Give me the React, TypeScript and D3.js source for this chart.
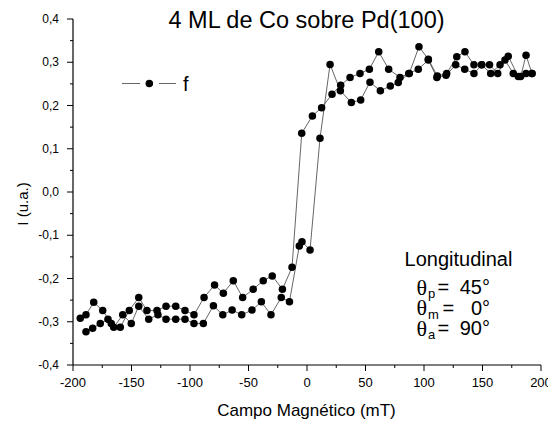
import React from "react";
import * as d3 from "d3";

const fieldDown = [-193.8, -188.9, -182.3, -174.6, -167.3, -159.6, -151.9, -143.8, -136.8, -128.2, -120.5, -112.2, -104.3, -96.6, -88.0, -79.0, -71.5, -63.0, -55.0, -46.0, -37.4, -29.7, -21.0, -12.8, -4.5, 4.6, 12.5, 21.4, 28.8, 36.8, 45.3, 53.3, 61.3, 69.8, 79.5, 87.4, 95.7, 103.7, 111.4, 119.4, 128.0, 135.0, 142.7, 149.3, 156.0, 163.0, 169.2, 176.3, 182.6, 187.2, 192.3];
const intensityDown = [-0.292, -0.284, -0.255, -0.274, -0.304, -0.313, -0.274, -0.244, -0.274, -0.274, -0.264, -0.264, -0.274, -0.284, -0.244, -0.215, -0.234, -0.205, -0.244, -0.225, -0.205, -0.194, -0.225, -0.174, 0.136, 0.176, 0.195, 0.226, 0.247, 0.265, 0.274, 0.284, 0.324, 0.284, 0.265, 0.274, 0.336, 0.307, 0.268, 0.274, 0.313, 0.324, 0.294, 0.294, 0.294, 0.274, 0.305, 0.274, 0.267, 0.316, 0.274];

const fieldUp = [-188.9, -183.2, -176.7, -170.1, -165.2, -157.5, -150.2, -143.8, -135.3, -127.4, -120.5, -112.2, -104.3, -96.6, -88.6, -80.0, -72.0, -64.0, -55.8, -47.0, -39.0, -30.8, -22.0, -15.0, -6.6, -4.3, 2.6, 11.1, 19.7, 28.5, 37.9, 45.9, 53.8, 62.7, 71.2, 78.0, 87.0, 95.1, 103.7, 111.0, 118.8, 127.1, 134.8, 142.7, 149.3, 157.0, 165.0, 172.0, 180.6, 187.2, 192.3];
const intensityUp = [-0.323, -0.315, -0.304, -0.294, -0.313, -0.284, -0.304, -0.264, -0.294, -0.284, -0.294, -0.294, -0.294, -0.304, -0.304, -0.263, -0.284, -0.273, -0.284, -0.273, -0.254, -0.284, -0.244, -0.254, -0.125, -0.115, -0.134, 0.124, 0.295, 0.234, 0.207, 0.213, 0.254, 0.234, 0.245, 0.253, 0.274, 0.284, 0.305, 0.265, 0.270, 0.294, 0.284, 0.274, 0.294, 0.274, 0.294, 0.314, 0.267, 0.274, 0.274];

const xTicks = [-200, -150, -100, -50, 0, 50, 100, 150, 200];
const xMinorTicks = [-175, -125, -75, -25, 25, 75, 125, 175];
const yTicks = [-0.4, -0.3, -0.2, -0.1, 0, 0.1, 0.2, 0.3, 0.4];
const yMinorTicks = [-0.35, -0.25, -0.15, -0.05, 0.05, 0.15, 0.25, 0.35];
const yTickLabels = ["-0,4", "-0,3", "-0,2", "-0,1", "0,0", "0,1", "0,2", "0,3", "0,4"];

const title = "4 ML de Co sobre Pd(100)";
const xTitle = "Campo Magnético (mT)";
const yTitle = "I (u.a.)";
const legendLabel = "f";
const angleSubs = ["p", "m", "a"];
const angleValues = ["45°", "0°", "90°"];

const SANS = "'Liberation Sans', Arial, sans-serif";
const SERIF = "'Liberation Serif', 'DejaVu Serif', serif";

export default function App() {
  const W = 548, H = 422;
  const x = d3.scaleLinear().domain([-200, 200]).range([73, 541]);
  const y = d3.scaleLinear().domain([-0.4, 0.4]).range([365, 19]);

  const down = fieldDown.map((f, i) => [f, intensityDown[i]] as [number, number]);
  const up = fieldUp.map((f, i) => [f, intensityUp[i]] as [number, number]);
  const line = d3.line<[number, number]>().x(d => x(d[0])).y(d => y(d[1]));

  const x0 = x(-200), yb = y(-0.4);
  const R = 3.75;
  const angleBase = [294, 314.5, 335];
  const eqX = [437.5, 442.5, 437.5];

  return (
    <svg width={W} height={H} style={{ position: "absolute", left: 0, top: 0, background: "#fff" }}>
      <rect width={W} height={H} fill="#fff" />
      {/* series lines */}
      <path d={line(down) || ""} fill="none" stroke="#555" strokeWidth={0.9} />
      <path d={line(up) || ""} fill="none" stroke="#555" strokeWidth={0.9} />
      {down.map((d, i) => (
        <circle key={"d" + i} cx={x(d[0])} cy={y(d[1])} r={R} fill="#000" />
      ))}
      {up.map((d, i) => (
        <circle key={"u" + i} cx={x(d[0])} cy={y(d[1])} r={R} fill="#000" />
      ))}

      {/* axes */}
      <line x1={x0} x2={x0} y1={y(0.4)} y2={yb} stroke="#000" strokeWidth={1.2} />
      <line x1={x0} x2={x(200)} y1={yb} y2={yb} stroke="#000" strokeWidth={1.2} />
      {xTicks.map(t => (
        <g key={"xt" + t}>
          <line x1={x(t)} x2={x(t)} y1={yb} y2={yb + 6} stroke="#000" strokeWidth={1} />
          <text x={x(t)} y={yb + 22} fontSize={13} fontFamily={SANS} textAnchor="middle" fill="#000">{t}</text>
        </g>
      ))}
      {xMinorTicks.map(t => (
        <line key={"xm" + t} x1={x(t)} x2={x(t)} y1={yb} y2={yb + 3} stroke="#000" strokeWidth={1} />
      ))}
      {yTicks.map((t, i) => (
        <g key={"yt" + t}>
          <line x1={x0 - 6} x2={x0} y1={y(t)} y2={y(t)} stroke="#000" strokeWidth={1} />
          <text x={x0 - 14} y={y(t) + 4} fontSize={12} fontFamily={SANS} textAnchor="end" fill="#000">{yTickLabels[i]}</text>
        </g>
      ))}
      {yMinorTicks.map(t => (
        <line key={"ym" + t} x1={x0 - 3} x2={x0} y1={y(t)} y2={y(t)} stroke="#000" strokeWidth={1} />
      ))}

      {/* titles */}
      <text x={306.5} y={28} fontSize={23.5} fontFamily={SANS} textAnchor="middle" fill="#000">{title}</text>
      <text x={306.5} y={415.5} fontSize={17} fontFamily={SANS} textAnchor="middle" fill="#000">{xTitle}</text>
      <text transform="translate(28,204) rotate(-90)" fontSize={15} fontFamily={SANS} textAnchor="middle" fill="#000">{yTitle}</text>

      {/* legend */}
      <line x1={122} x2={140} y1={83.5} y2={83.5} stroke="#555" strokeWidth={0.9} />
      <circle cx={149.3} cy={83.5} r={R} fill="#000" />
      <line x1={159} x2={176} y1={83.5} y2={83.5} stroke="#555" strokeWidth={0.9} />
      <text x={183} y={91} fontSize={20} fontFamily={SANS} fill="#000">{legendLabel}</text>

      {/* annotation */}
      <text x={458.5} y={266} fontSize={20} fontFamily={SANS} textAnchor="middle" fill="#000">Longitudinal</text>
      {angleSubs.map((s, i) => (
        <g key={"ang" + s}>
          <text x={416.5} y={angleBase[i] + 0.5} fill="#000">
            <tspan fontSize={22} fontFamily={SERIF}>θ</tspan>
            <tspan fontSize={13} fontFamily={SANS} dx={1} dy={3.5}>{s}</tspan>
          </text>
          <text x={eqX[i]} y={angleBase[i]} fontSize={20} fontFamily={SANS} fill="#000">=</text>
          <text x={490} y={angleBase[i]} fontSize={20} fontFamily={SANS} textAnchor="end" fill="#000">{angleValues[i]}</text>
        </g>
      ))}
    </svg>
  );
}
